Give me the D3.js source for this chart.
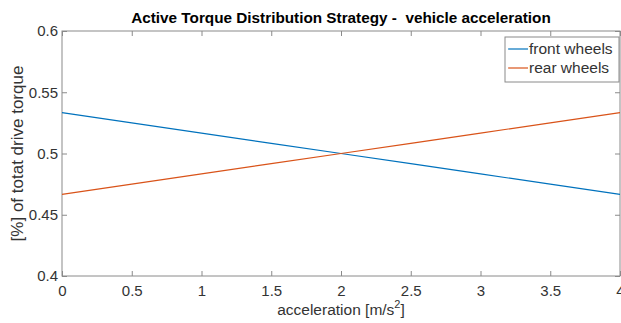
<!DOCTYPE html>
<html>
<head>
<meta charset="utf-8">
<script src="https://cdn.jsdelivr.net/npm/d3@7"></script>
<style>
  body { margin: 0; background: #fff; }
  svg { display: block; font-family: Arial, "Liberation Sans", sans-serif; }
</style>
</head>
<body>
<svg id="chart" width="621" height="323"></svg>
<script>
// data
const accel = [0, 0.5, 1, 1.5, 2, 2.5, 3, 3.5, 4];
const frontWheels = [0.5333, 0.525, 0.5167, 0.5083, 0.5, 0.4917, 0.4833, 0.475, 0.4667];
const rearWheels  = [0.4667, 0.475, 0.4833, 0.4917, 0.5, 0.5083, 0.5167, 0.525, 0.5333];
const xTicks = [0, 0.5, 1, 1.5, 2, 2.5, 3, 3.5, 4];
const yTicks = [0.4, 0.45, 0.5, 0.55, 0.6];
const seriesNames = ['front wheels', 'rear wheels'];
const seriesColors = ['#0072BD', '#D95319'];

const svg = d3.select('#chart');
const margin = { top: 31, right: 1, bottom: 47, left: 62 };
const width = 621, height = 323;
const w = width - margin.left - margin.right;
const h = height - margin.top - margin.bottom;

const x = d3.scaleLinear().domain([0, 4]).range([0, w]);
const y = d3.scaleLinear().domain([0.4, 0.6]).range([h, 0]);

const g = svg.append('g').attr('transform', `translate(${margin.left},${margin.top})`);
const axisCol = '#8a8a8a';
const textCol = '#333';

// box
g.append('rect').attr('x', 0).attr('y', 0).attr('width', w).attr('height', h)
  .attr('fill', 'none').attr('stroke', axisCol).attr('stroke-width', 1);

// bottom axis (ticks inward)
const xa = g.append('g').attr('transform', `translate(0,${h})`)
  .call(d3.axisBottom(x).tickValues(xTicks).tickSize(-5).tickPadding(9).tickFormat(d3.format('')));
xa.select('.domain').remove();
xa.selectAll('line').attr('stroke', axisCol);
xa.selectAll('text').attr('font-size', 15).attr('fill', textCol);

// top ticks
g.append('g').call(d3.axisTop(x).tickValues(xTicks).tickSize(-5).tickFormat(''))
  .call(s => s.select('.domain').remove())
  .selectAll('line').attr('stroke', axisCol);

// left axis
const ya = g.append('g')
  .call(d3.axisLeft(y).tickValues(yTicks).tickSize(-5).tickPadding(4).tickFormat(d3.format('')));
ya.select('.domain').remove();
ya.selectAll('line').attr('stroke', axisCol);
ya.selectAll('text').attr('font-size', 15).attr('fill', textCol);

// right ticks
g.append('g').attr('transform', `translate(${w},0)`)
  .call(d3.axisRight(y).tickValues(yTicks).tickSize(-5).tickFormat(''))
  .call(s => s.select('.domain').remove())
  .selectAll('line').attr('stroke', axisCol);

// lines
const series = [frontWheels, rearWheels];
const line = d3.line().x((d, i) => x(accel[i])).y(d => y(d));
series.forEach((s, k) => {
  g.append('path').datum(s).attr('d', line)
    .attr('fill', 'none').attr('stroke', seriesColors[k]).attr('stroke-width', 1.2);
});

// title (two spaces after the dash kept)
svg.append('text')
  .attr('x', margin.left + w / 2).attr('y', 23)
  .attr('text-anchor', 'middle').attr('font-size', 15.3).attr('font-weight', 'bold')
  .attr('fill', '#000').style('white-space', 'pre')
  .text('Active Torque Distribution Strategy -  vehicle acceleration');

// x label
const xl = svg.append('text')
  .attr('x', margin.left + w / 2).attr('y', 315)
  .attr('text-anchor', 'middle').attr('font-size', 15.5).attr('fill', textCol);
xl.append('tspan').text('acceleration [m/s');
xl.append('tspan').attr('dy', -7).attr('font-size', 11).text('2');
xl.append('tspan').attr('dy', 7).text(']');

// y label
svg.append('text')
  .attr('transform', `translate(23,${margin.top + h / 2}) rotate(-90)`)
  .attr('text-anchor', 'middle').attr('font-size', 17).attr('fill', textCol)
  .text('[%] of totat drive torque');

// legend
const lg = svg.append('g').attr('transform', 'translate(505,37)');
lg.append('rect').attr('width', 114).attr('height', 45)
  .attr('fill', '#fff').attr('stroke', axisCol);
seriesNames.forEach((n, k) => {
  const yy = 12 + k * 19;
  lg.append('line').attr('x1', 3).attr('x2', 23).attr('y1', yy).attr('y2', yy)
    .attr('stroke', seriesColors[k]).attr('stroke-width', 1.2);
  lg.append('text').attr('x', 24).attr('y', yy + 5)
    .attr('font-size', 15.5).attr('fill', textCol).text(n);
});
</script>
</body>
</html>
